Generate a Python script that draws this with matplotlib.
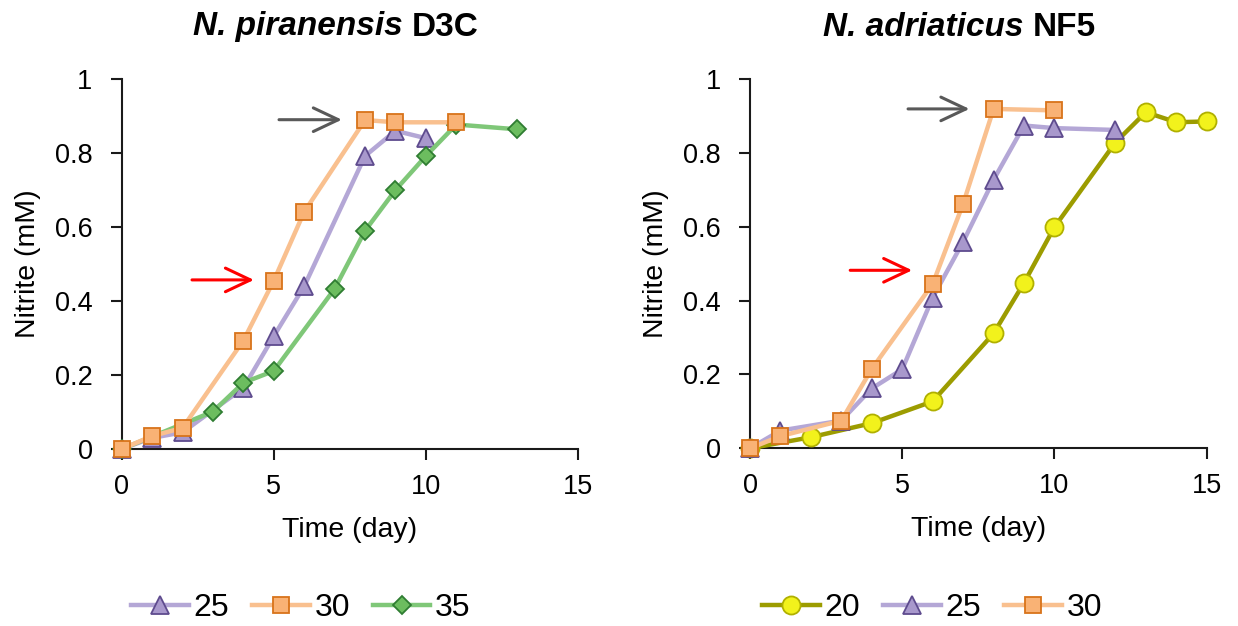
import matplotlib
matplotlib.use("Agg")
import matplotlib.pyplot as plt
from matplotlib.lines import Line2D

plt.rcParams['font.family'] = ['Liberation Sans', 'DejaVu Sans']

# ---- Left panel: N. piranensis D3C ----
left_25_x = [0, 1, 2, 4, 5, 6, 8, 9, 10]
left_25_y = [0.0, 0.03, 0.045, 0.165, 0.305, 0.44, 0.792, 0.86, 0.84]
left_30_x = [0, 1, 2, 4, 5, 6, 8, 9, 11]
left_30_y = [0.0, 0.035, 0.057, 0.293, 0.455, 0.641, 0.889, 0.883, 0.883]
left_35_x = [0, 3, 4, 5, 7, 8, 9, 10, 11, 13]
left_35_y = [0.0, 0.101, 0.179, 0.211, 0.433, 0.59, 0.70, 0.792, 0.877, 0.864]

# ---- Right panel: N. adriaticus NF5 ----
right_20_x = [0, 2, 4, 6, 8, 9, 10, 12, 13, 14, 15]
right_20_y = [0.0, 0.030, 0.068, 0.127, 0.311, 0.448, 0.599, 0.828, 0.91, 0.883, 0.885]
right_25_x = [0, 1, 3, 4, 5, 6, 7, 8, 9, 10, 12]
right_25_y = [0.0, 0.048, 0.075, 0.162, 0.214, 0.408, 0.559, 0.727, 0.874, 0.867, 0.862]
right_30_x = [0, 1, 3, 4, 6, 7, 8, 10]
right_30_y = [0.0, 0.033, 0.075, 0.215, 0.445, 0.662, 0.919, 0.915]

titles = [("N. piranensis", "D3C"), ("N. adriaticus", "NF5")]
xlabel = "Time (day)"
ylabel = "Nitrite (mM)"
xticks = [0, 5, 10, 15]
yticks = [0, 0.2, 0.4, 0.6, 0.8, 1]
ytick_labels = ["0", "0.2", "0.4", "0.6", "0.8", "1"]

styles = {
    "20": dict(color="#9c9c00", marker="o", mfc="#f2f21c", mec="#b0b000", ms=13, lw=3.2),
    "25": dict(color="#b4a7d6", marker="^", mfc="#a898cc", mec="#5e4b8e", ms=13, lw=3.2),
    "30": dict(color="#f9c08f", marker="s", mfc="#f9b275", mec="#d8731a", ms=12, lw=3.2),
    "35": dict(color="#7fc778", marker="D", mfc="#6cbd5f", mec="#2f7d32", ms=9.5, lw=3.2),
}

W, H = 1238, 626
fig = plt.figure(figsize=(W / 100, H / 100), dpi=100)

def px_axes(x0, x1, y0, y1):
    return fig.add_axes([x0 / W, 1 - y1 / H, (x1 - x0) / W, (y1 - y0) / H])

axL = px_axes(121.7, 578, 79, 449)
axR = px_axes(750, 1206.7, 79, 448.3)

def plot_series(ax, x, y, key):
    s = styles[key]
    ax.plot(x, y, color=s["color"], lw=s["lw"], marker=s["marker"], ms=s["ms"],
            mfc=s["mfc"], mec=s["mec"], mew=1.3, label=key, zorder=3, clip_on=False)

plot_series(axL, left_25_x, left_25_y, "25")
plot_series(axL, left_35_x, left_35_y, "35")
plot_series(axL, left_30_x, left_30_y, "30")

plot_series(axR, right_20_x, right_20_y, "20")
plot_series(axR, right_25_x, right_25_y, "25")
plot_series(axR, right_30_x, right_30_y, "30")

for ax in (axL, axR):
    ax.set_xlim(0, 15)
    ax.set_ylim(0, 1)
    ax.set_xticks(xticks)
    ax.set_yticks(yticks)
    ax.set_yticklabels(ytick_labels)
    for sp in ("top", "right"):
        ax.spines[sp].set_visible(False)
    for sp in ("left", "bottom"):
        ax.spines[sp].set_linewidth(1.5)
        ax.spines[sp].set_color("#1a1a1a")
    ax.tick_params(direction="out", length=8, width=1.5, labelsize=19.5, color="#1a1a1a")
    ax.tick_params(axis="y", pad=13)
    ax.tick_params(axis="x", pad=10)
    ax.set_xlabel(xlabel, fontsize=20.5, labelpad=12)
    ax.set_ylabel(ylabel, fontsize=20.5, labelpad=10)

# arrows
def arrow(ax, x0, x1, y, color):
    ax.annotate("", xy=(x1, y), xytext=(x0, y),
                arrowprops=dict(arrowstyle="->,head_length=1.8,head_width=0.85", color=color, lw=2.2),
                zorder=4)

arrow(axL, 5.08, 7.33, 0.89, "#595959")
arrow(axL, 2.22, 4.44, 0.457, "#ff0000")
arrow(axR, 5.1, 7.3, 0.919, "#595959")
arrow(axR, 3.2, 5.42, 0.482, "#ff0000")

# titles
for (ital, rest), cx in zip(titles, [336, 959]):
    t1 = fig.text(0, 1 - 27 / H, ital + " ", fontsize=24, weight="bold", style="italic",
                  ha="left", va="center")
    t2 = fig.text(0, 1 - 27 / H, rest, fontsize=24, weight="bold", ha="left", va="center")
    fig.canvas.draw()
    r = fig.canvas.get_renderer()
    w1 = t1.get_window_extent(r).width
    w2 = t2.get_window_extent(r).width
    start = cx - (w1 + w2) / 2
    t1.set_x(start / W)
    t2.set_x((start + w1) / W)

# legends
def make_handles(keys):
    hs = []
    for k in keys:
        s = styles[k]
        hs.append(Line2D([], [], color=s["color"], lw=s["lw"], marker=s["marker"], ms=s["ms"],
                         mfc=s["mfc"], mec=s["mec"], mew=1.3, label=k))
    return hs

legkw = dict(loc="center", ncol=3, frameon=False, fontsize=23, handlelength=1.8,
             handletextpad=0.15, columnspacing=0.72)
fig.legend(handles=make_handles(["25", "30", "35"]), bbox_to_anchor=(301 / W, 1 - 608 / H), **legkw)
fig.legend(handles=make_handles(["20", "25", "30"]), bbox_to_anchor=(932 / W, 1 - 608 / H), **legkw)

fig.savefig("out.png", dpi=100)
